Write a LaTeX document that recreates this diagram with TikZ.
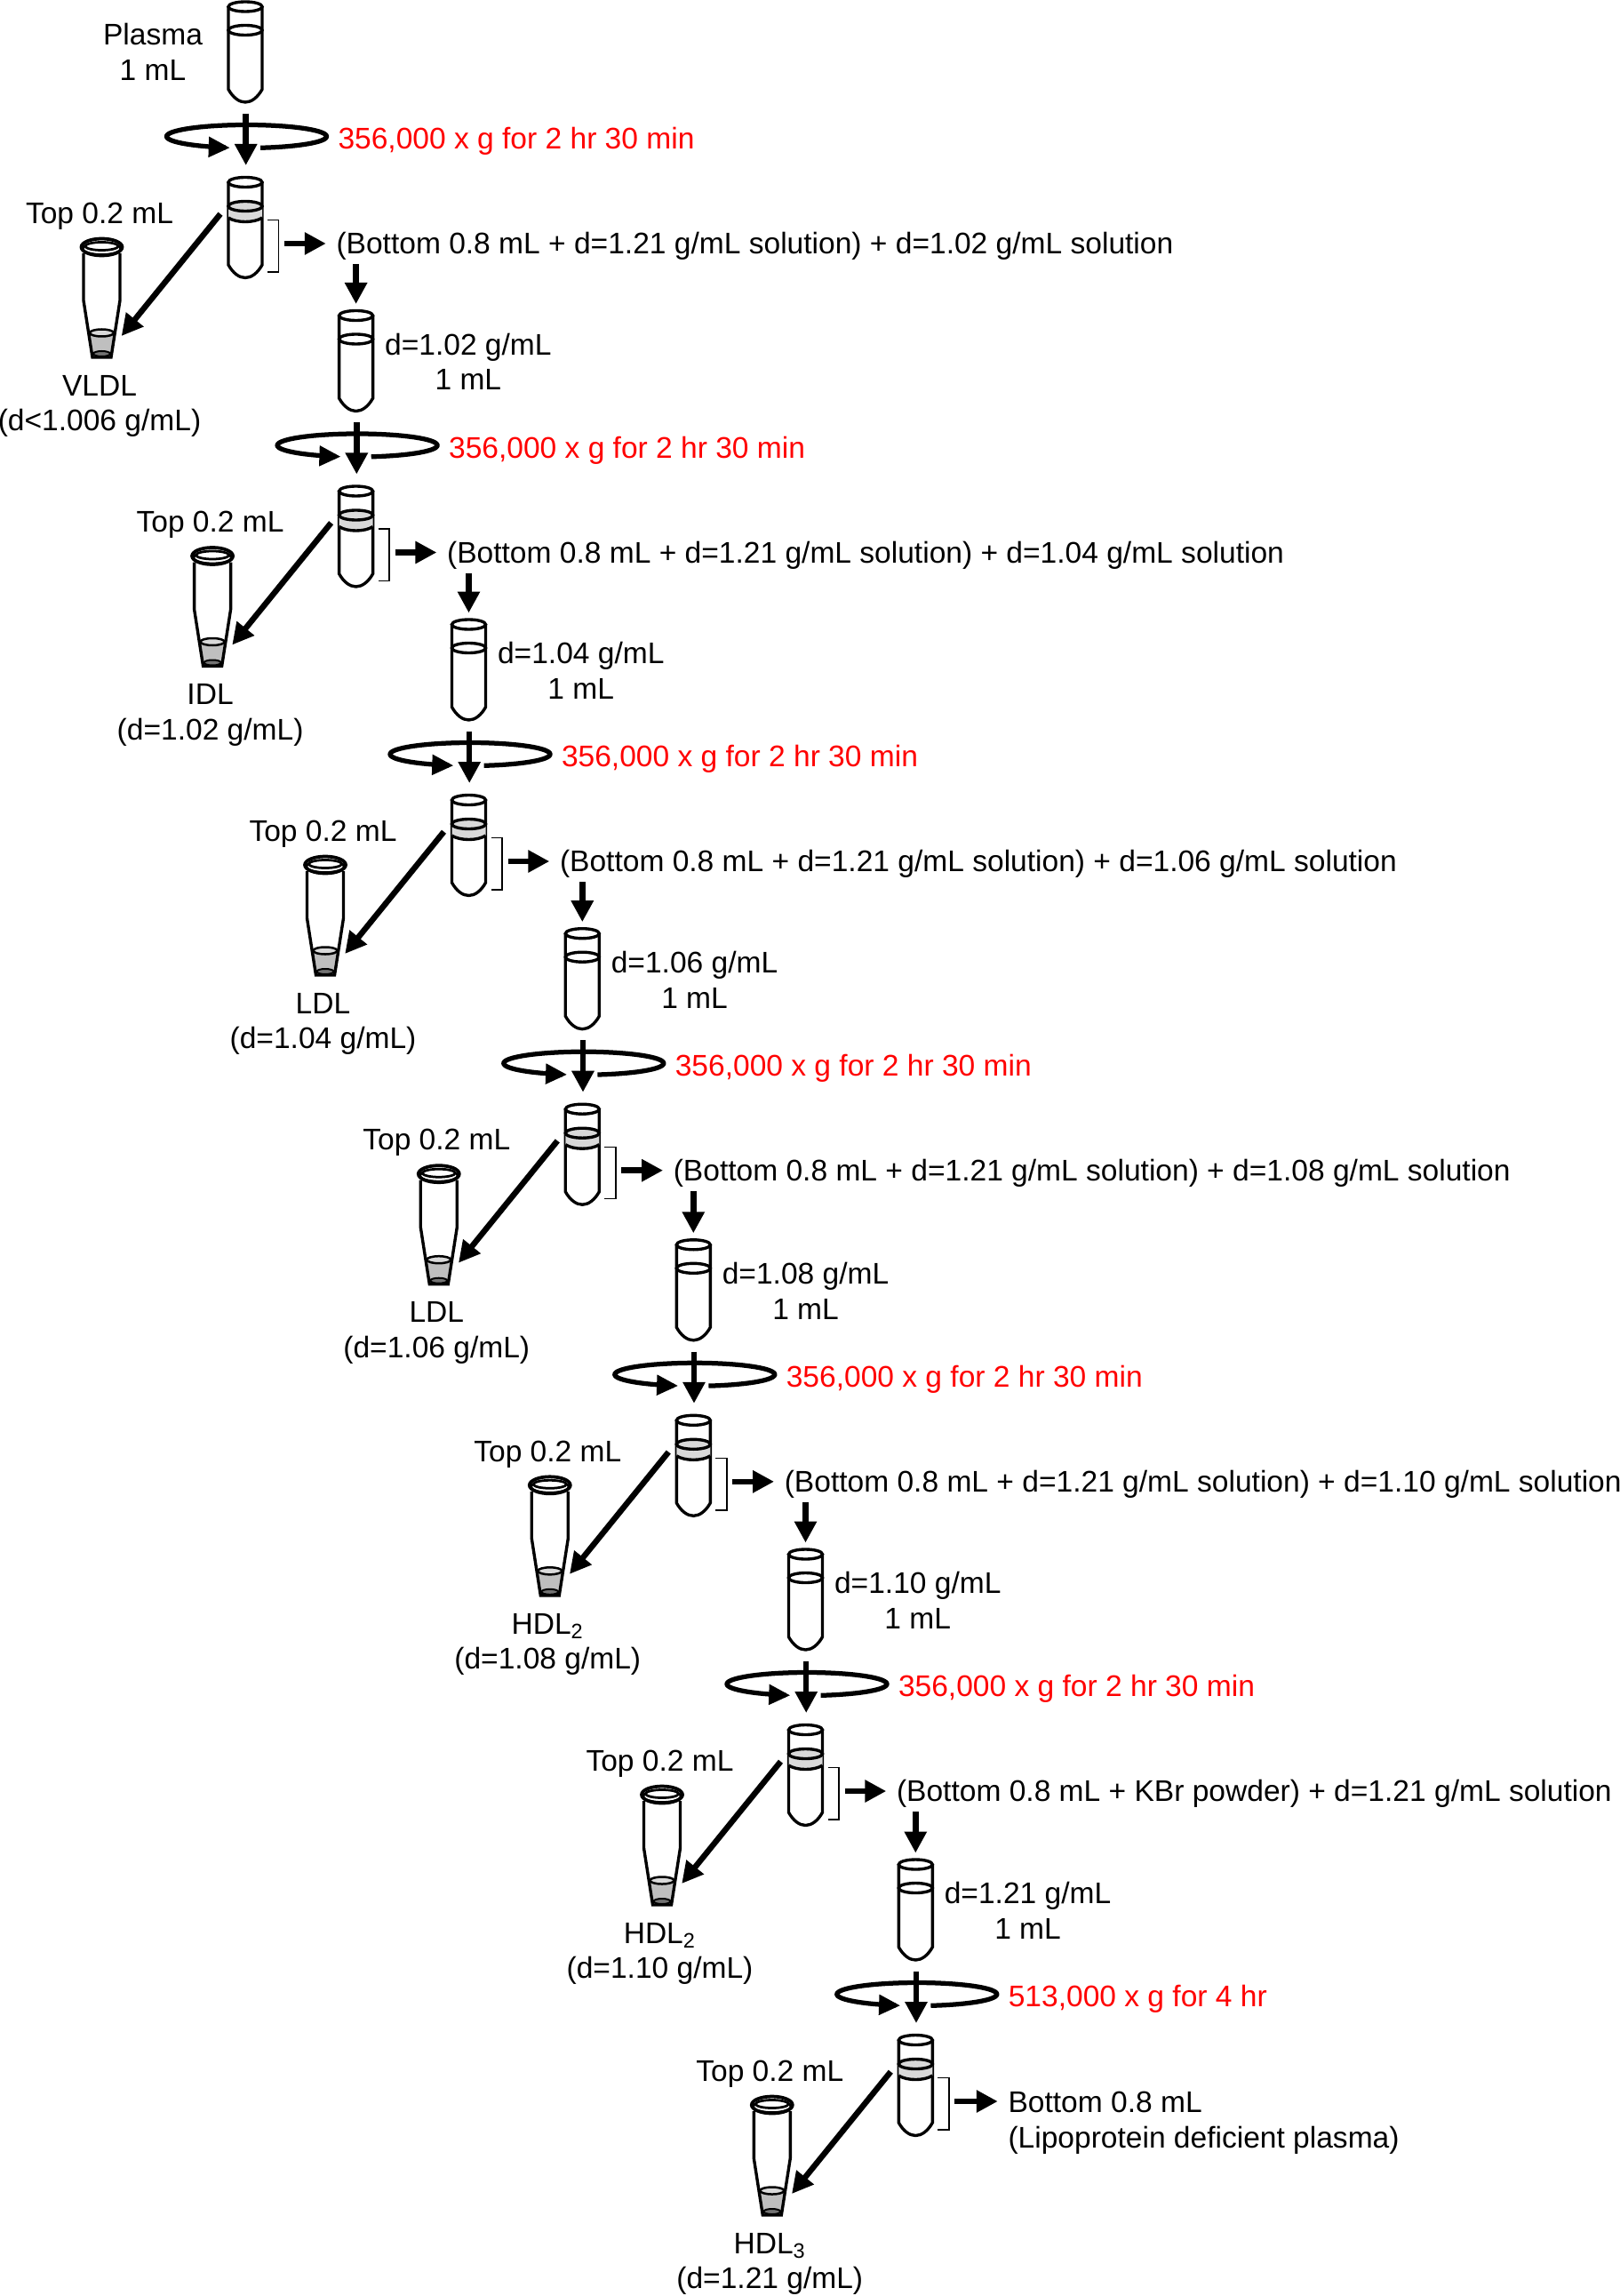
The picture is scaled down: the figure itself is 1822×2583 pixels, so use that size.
\documentclass[tikz,border=0pt]{standalone}
\usepackage{fontspec}
\setmainfont{Liberation Sans}
\usetikzlibrary{arrows.meta}

\definecolor{bandgray}{HTML}{D9D9D9}
\definecolor{liquidgray}{HTML}{BFBFBF}
\newcommand{\spinlong}{356,000 x g for 2 hr 30 min}
\newcommand{\spinlast}{513,000 x g for 4 hr}

\tikzset{
  label/.style={font=\fontsize{13.42}{15.84}\selectfont, align=center, inner sep=0pt},
  redlabel/.style={label, text=red, anchor=west},
  bigarrow/.style={line width=2.6pt, -{Triangle[length=9.6pt,width=9.6pt]}},
  tube/.pic={
    \draw[line width=1.35pt, fill=white] (-19,0) -- (-19,93)
      .. controls (-14,102) and (-7,107.5) .. (0,107.5)
      .. controls (7,107.5) and (14,102) .. (19,93) -- (19,0);
    \draw[line width=1.35pt] (0,0) ellipse [x radius=19, y radius=5.5];
    \draw[line width=1.35pt] (0,26.5) ellipse [x radius=19, y radius=5.5];
  },
  spintube/.pic={
    \draw[line width=1.35pt, fill=white] (-19,0) -- (-19,93)
      .. controls (-14,102) and (-7,107.5) .. (0,107.5)
      .. controls (7,107.5) and (14,102) .. (19,93) -- (19,0);
    \draw[line width=1.35pt] (0,0) ellipse [x radius=19, y radius=5.5];
    \fill[bandgray] (-19,27) -- (-19,40) .. controls (-10,46) and (10,46) .. (19,40) -- (19,27) -- cycle;
    \draw[line width=1.35pt] (-19,40) .. controls (-10,46) and (10,46) .. (19,40);
    \draw[line width=1.35pt, fill=bandgray] (0,27) ellipse [x radius=19, y radius=5.5];
  },
  vial/.pic={
    \fill[liquidgray] (-14.8,96.5) -- (-10.5,123) -- (10.5,123) -- (14.8,96.5) -- cycle;
    \draw[line width=1.35pt] (-20.5,7) -- (-20.5,60) -- (-10.5,124) -- (10.5,124) -- (20.5,60) -- (20.5,7);
    \draw[line width=1.5pt, fill=white] (0,0) ellipse [x radius=23, y radius=9.5];
    \draw[line width=1.1pt] (0,2) ellipse [x radius=21.5, y radius=6.5];
    \draw[line width=1.1pt, fill=white] (0,-1) ellipse [x radius=18.5, y radius=4.5];
    \draw[line width=1pt, fill=bandgray] (0,96.5) ellipse [x radius=13.5, y radius=4];
    \draw[line width=.8pt, fill=black!55] (0,120) ellipse [x radius=9.5, y radius=3];
  },
}

\begin{document}
\begin{tikzpicture}[x=0.4pt, y=-0.4pt]
  \useasboundingbox (0,0) rectangle (1822,2583);

  \node[label] (plasma) at (172,58.5) {Plasma\\1 mL};

  % one round of the ladder
  \foreach \i/\ox/\oy/\cut/\dens/\spin in {
      0/0/0/VLDL/d<1.006/\spinlong,
      1/124.6/347.5/IDL/d=1.02/\spinlong,
      2/251.5/695/LDL/d=1.04/\spinlong,
      3/379.3/1042.7/LDL/d=1.06/\spinlong,
      4/504.3/1392.8/{HDL\textsubscript{2}}/d=1.08/\spinlong,
      5/630.5/1741/{HDL\textsubscript{2}}/d=1.10/\spinlong,
      6/754.3/2090/{HDL\textsubscript{3}}/d=1.21/\spinlast} {
    \begin{scope}[shift={(\ox,\oy)}]
      \pic at (276,7.5) {tube};
      \pic at (276,205) {spintube};
      \pic at (114.5,278) {vial};

      \coordinate (tube\i) at (276,7.5);
      \coordinate (drop\i) at (276.7,127.7);
      \coordinate (spun\i) at (276.7,186);
      \coordinate (out\i) at (248,240.7);
      \coordinate (vial\i) at (136.7,378);
      \coordinate (brk\i) at (320,274);

      \draw[line width=2.1pt, -{Triangle[length=9.6pt,width=8.8pt]}]
        plot[domain=80:-258, samples=80, smooth] ({277.5+90*cos(\x)},{153.5+13*sin(\x)});
      \draw[bigarrow] (drop\i) -- (spun\i);
      \draw[bigarrow] (out\i) -- (vial\i);
      \draw[line width=.6pt] (301,247.7) -- (313.5,247.7) -- (313.5,306) -- (301,306);

      \node[redlabel] (spin\i) at (380,159) {\spin};
      \node[label] (top\i) at (112,243) {Top 0.2 mL};
      \node[label] (cut\i) at (112,457) {\cut\\(\dens\ g/mL)};
    \end{scope}
  }

  % what goes on to the next round
  \foreach \i/\j/\solid/\dnext in {
      0/1/d=1.21 g\slash mL solution/1.02,
      1/2/d=1.21 g\slash mL solution/1.04,
      2/3/d=1.21 g\slash mL solution/1.06,
      3/4/d=1.21 g\slash mL solution/1.08,
      4/5/d=1.21 g\slash mL solution/1.10,
      5/6/KBr powder/1.21} {
    \node[label, anchor=west] (soln\i) at ([xshift=23.2pt,yshift=-1.2pt]brk\i)
      {(Bottom 0.8 mL + \solid) + d=\dnext\ g/mL solution};
    \node[label] (dens\i) at ([xshift=50.5pt,yshift=-20.8pt]tube\j) {d=\dnext\ g/mL\\1 mL};
    \coordinate (feed\i) at ([yshift=5.2pt]tube\j);
    \coordinate (level\i) at ([yshift=-9.2pt]brk\i);
    \draw[bigarrow, shorten >=4.5pt] (brk\i) -- (brk\i -| soln\i.west);
    \draw[bigarrow] (level\i -| tube\j) -- (feed\i);
  }

  \node[label, anchor=west, align=left] (rest) at (1134,2388)
    {Bottom 0.8 mL\\(Lipoprotein deficient plasma)};
  \draw[bigarrow, shorten >=4.5pt] (brk6) -- (brk6 -| rest.west);
\end{tikzpicture}
\end{document}
